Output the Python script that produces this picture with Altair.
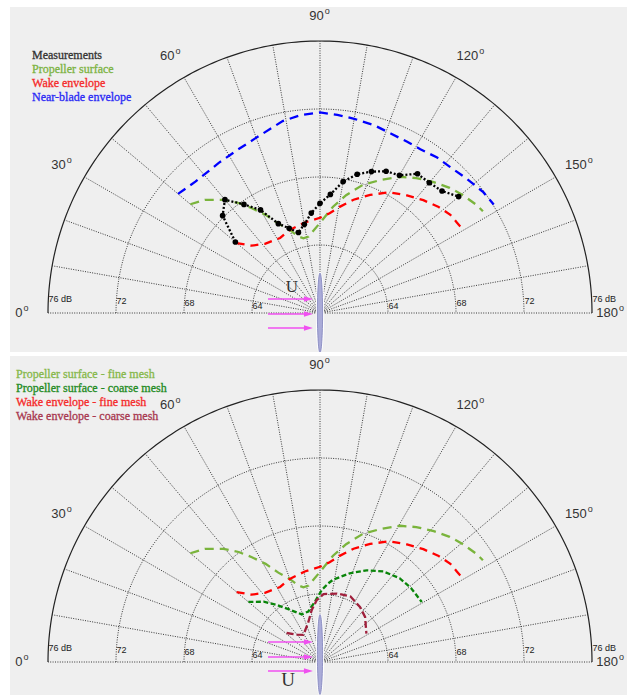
import altair as alt
import pandas as pd

# ---------------- data: angle (deg, 0° at left, 90° up, 180° at right), level (dB) ----------
meas_angle = [40, 45, 50, 55, 60, 65, 70, 75, 80, 85, 90, 95, 100, 105, 110, 115, 120, 125, 130, 135, 140]
meas_db = [66.5, 68.1, 68.7, 67.8, 67.0, 65.8, 65.3, 64.9, 65.3, 65.9, 66.45, 67.0, 67.85, 68.45,
           68.85, 69.2, 69.35, 70.0, 70.0, 70.15, 70.65]

prop_angle = [40, 44.5, 49.5, 53.5, 57, 61, 65, 70, 74, 77.5, 81.5, 90, 97, 102.5, 108.5, 114.5,
              120.5, 125.5, 131, 136, 140.5, 145.5, 148]
prop_db = [69.95, 69.5, 68.75, 68.05, 67.35, 66.6, 65.8, 65.2, 64.7, 64.5, 64.55, 65.3, 66.3, 67.1,
           67.95, 68.6, 69.3, 69.75, 70.2, 70.6, 70.9, 71.2, 71.3]

wake_angle = [40, 44.5, 51.5, 62, 70, 80.5, 90, 95.5, 100.5, 106.5, 113, 120, 126.5, 132.5, 138,
              143, 146.5, 150]
wake_db = [66.4, 65.65, 65.2, 65.0, 65.2, 65.4, 65.6, 65.9, 66.35, 66.95, 67.55, 68.2, 68.6, 69.0,
           69.35, 69.6, 69.65, 69.75]

nb_angle = [40, 46.5, 56, 63, 69.5, 79, 84.5, 90, 95, 100, 106, 111.5, 117, 121.5, 127, 131.5,
            137.5, 143.5, 148]
nb_db = [70.9, 70.65, 70.65, 70.75, 70.95, 71.5, 71.7, 71.8, 71.7, 71.6, 71.5, 71.35, 71.3, 71.3,
         71.45, 71.5, 71.7, 71.95, 72.05]

psc_angle = [40, 47, 53, 60, 69, 77, 85, 91.5, 96, 99, 108.5, 117, 125, 133.5, 141, 149.5]
psc_db = [65.5, 64.85, 64.2, 63.55, 63.0, 63.05, 63.55, 64.25, 64.65, 64.9, 65.5, 66.05, 66.5,
          66.8, 66.9, 66.95]

wec_angle = [41, 50, 58.5, 73, 81, 87, 93, 104, 115, 126, 135, 148.5]
wec_db = [62.6, 62.1, 61.87, 62.4, 63.1, 63.65, 64.0, 64.15, 64.25, 64.0, 63.75, 63.2]

ring_db = [64, 68, 72]
outer_db = 76
spoke_angles = list(range(0, 181, 10))
angle_ticks = [0, 30, 60, 90, 120, 150, 180]

top_labels = ["Measurements", "Propeller surface", "Wake envelope", "Near-blade envelope"]
bot_labels = ["Propeller surface - fine mesh", "Propeller surface - coarse mesh",
              "Wake envelope - fine mesh", "Wake envelope - coarse mesh"]

# ---------------- layout ----------------
PX = 17.0            # pixels per dB
W = 617
CXP, CYP = 310, 306  # polar centre inside each view (px)
H_TOP, H_BOT = 345, 339

POLAR = dict(px="-(datum.db-60)*cos(datum.angle*PI/180)",
             py="(datum.db-60)*sin(datum.angle*PI/180)")

ELLIPSE = "M0,-1A0.065,1,0,1,1,0,1A0.065,1,0,1,1,0,-1Z"
HEAD = "M-1,-0.6L1,0L-1,0.6Z"

C_LG = "#7ab43c"
C_RED = "#ff0000"
C_BLUE = "#0000ff"
C_DG = "#0a850a"
C_MAR = "#a0203c"
C_ARROW = "#f050f0"
C_GRID = "#222"


def panel(h, series, markers, legend, leg_x, leg_y, arrows_y, u_pos, u_size, prop_dy):
    xs = alt.Scale(domain=[-CXP / PX, (W - CXP) / PX], nice=False, zero=False)
    ys = alt.Scale(domain=[-(h - CYP) / PX, CYP / PX], nice=False, zero=False)

    def E():
        return dict(x=alt.X("px:Q", scale=xs, axis=None), y=alt.Y("py:Q", scale=ys, axis=None))

    arc = list(range(0, 181))
    disk_df = pd.DataFrame({"angle": arc, "db": outer_db})
    disk = alt.Chart(disk_df).transform_calculate(**POLAR).mark_area(color="white").encode(
        **E(), y2=alt.Y2(datum=0), order="angle:Q")
    outer = alt.Chart(disk_df).transform_calculate(**POLAR).mark_line(
        color="#222", strokeWidth=1.2).encode(**E(), order="angle:Q")

    rings_df = pd.DataFrame([(a, d) for d in ring_db for a in arc], columns=["angle", "db"])
    rings = alt.Chart(rings_df).transform_calculate(**POLAR).mark_line(
        color=C_GRID, strokeWidth=0.9, strokeDash=[1, 1.4]).encode(
        **E(), detail="db:N", order="angle:Q")

    sp_df = pd.DataFrame({"angle": spoke_angles, "db": outer_db})
    spokes = alt.Chart(sp_df).transform_calculate(**POLAR, ox="0", oy="0").mark_rule(
        color=C_GRID, strokeWidth=0.9, strokeDash=[1, 1.4]).encode(
        x=alt.X("ox:Q", scale=xs, axis=None), y=alt.Y("oy:Q", scale=ys, axis=None),
        x2="px:Q", y2="py:Q")

    dbl_rows = []
    for d in ring_db + [outer_db]:
        for s in (-1, 1):
            dbl_rows.append({"db": d, "side": s, "text": f"{d} dB" if d == outer_db else str(d)})
    dbl = alt.Chart(pd.DataFrame(dbl_rows)).transform_calculate(
        px="datum.side*(datum.db-60) + 0.03",
        py="0.29 + 0.035*(datum.db-60)").mark_text(
        align="left", baseline="middle", fontSize=9, font="Liberation Sans", color="#222").encode(
        **E(), text="text:N")

    at_df = pd.DataFrame({"angle": angle_ticks})
    at_base = alt.Chart(at_df).transform_calculate(
        text="toString(datum.angle)",
        shift="(datum.angle < 90 ? -4.5 : (datum.angle == 90 ? -3.5 : -1))/17",
        cx="min(-17.45*cos(datum.angle*PI/180), 16.95)",
        cy="17.45*sin(datum.angle*PI/180)",
        px="datum.cx + datum.shift",
        py="datum.cy",
        ox="datum.cx + datum.shift + (length(toString(datum.angle))*7.23/2 + 1)/17",
        oy="datum.cy + 5/17")
    at_num = at_base.mark_text(align="center", baseline="middle", fontSize=13,
                               font="Liberation Sans", color="#333").encode(
        **E(), text="text:N")
    at_o = at_base.mark_text(align="left", baseline="middle", fontSize=9,
                             font="Liberation Sans", color="#333", text="o").encode(
        x=alt.X("ox:Q", scale=xs, axis=None), y=alt.Y("oy:Q", scale=ys, axis=None))

    lines = []
    for ang, dbs, color, dash in series:
        df = pd.DataFrame({"angle": ang, "db": dbs})
        lines.append(alt.Chart(df).transform_calculate(**POLAR).mark_line(
            color=color, strokeDash=dash, strokeWidth=2.3).encode(**E(), order="angle:Q"))

    extra = []
    for ang, dbs in markers:
        df = pd.DataFrame({"angle": ang, "db": dbs})
        extra.append(alt.Chart(df).transform_calculate(**POLAR).mark_point(
            filled=True, size=32, color="black", opacity=1).encode(**E()))

    legs = []
    for i, (lab, col) in enumerate(legend):
        df = pd.DataFrame({"label": [lab], "row": [i]})
        legs.append(alt.Chart(df).transform_calculate(
            px=f"{leg_x}", py=f"{leg_y} - datum.row*14/17").mark_text(
            align="left", baseline="middle", font="Liberation Serif", fontSize=12,
            fontWeight="normal", color=col, stroke=col, strokeWidth=0.3).encode(
            **E(), text="label:N"))

    prop_df = pd.DataFrame({"k": [0]})
    prop_base = alt.Chart(prop_df).transform_calculate(px="0", py=f"{prop_dy}")
    prop_halo = prop_base.mark_point(shape=ELLIPSE, size=6400, filled=False, stroke="white",
                                     strokeWidth=3, opacity=1, clip=True).encode(**E())
    prop = prop_base.mark_point(shape=ELLIPSE, size=6400, filled=True, fill="#aaabd8",
                                stroke="#7f81bb", strokeWidth=0.8, opacity=1, clip=True).encode(**E())

    ar_df = pd.DataFrame({"ay": arrows_y})
    ar_base = alt.Chart(ar_df).transform_calculate(x0="-3.06", x1="-0.85", xh="-0.68", py="datum.ay")
    ar_rule = ar_base.mark_rule(color=C_ARROW, strokeWidth=1.6).encode(
        x=alt.X("x0:Q", scale=xs, axis=None), x2="x1:Q", y=alt.Y("py:Q", scale=ys, axis=None))
    ar_head = ar_base.mark_point(shape=HEAD, size=81, filled=True, color=C_ARROW, opacity=1).encode(
        x=alt.X("xh:Q", scale=xs, axis=None), y=alt.Y("py:Q", scale=ys, axis=None))

    u_df = pd.DataFrame({"t": ["U"]})
    u = alt.Chart(u_df).transform_calculate(px=f"{u_pos[0]}", py=f"{u_pos[1]}").mark_text(
        align="center", baseline="middle", font="Liberation Serif", fontSize=u_size,
        color="#333").encode(**E(), text="t:N")

    return alt.layer(disk, rings, spokes, outer, dbl, at_num, at_o, *lines, *extra, *legs,
                     prop_halo, prop, ar_rule, ar_head, u).properties(width=W, height=h)


top = panel(
    H_TOP,
    series=[(prop_angle, prop_db, C_LG, [9, 6]),
            (wake_angle, wake_db, C_RED, [8, 6]),
            (nb_angle, nb_db, C_BLUE, [9, 6]),
            (meas_angle, meas_db, "black", [2, 2])],
    markers=[(meas_angle, meas_db)],
    legend=list(zip(top_labels, ["#333333", "#7cb342", "#f52a2a", "#2a2af5"])),
    leg_x=-16.94, leg_y=15.18,
    arrows_y=[0.82, -0.06, -0.88],
    u_pos=(-1.65, 1.53), u_size=17, prop_dy=0.0)

bottom = panel(
    H_BOT,
    series=[(prop_angle, prop_db, C_LG, [9, 6]),
            (wake_angle, wake_db, C_RED, [8, 6]),
            (psc_angle, psc_db, C_DG, [5, 2.5]),
            (wec_angle, wec_db, C_MAR, [7, 3])],
    markers=[],
    legend=list(zip(bot_labels, ["#86b84a", "#228b22", "#f52a2a", "#a8384f"])),
    leg_x=-17.88, leg_y=16.94,
    arrows_y=[1.18, 0.29, -0.53],
    u_pos=(-1.88, -1.06), u_size=19, prop_dy=0.44)

chart = alt.vconcat(top, bottom, spacing=4).resolve_scale(
    x="independent", y="independent").configure_view(
    fill="#efefef", stroke=None).properties(
    padding={"left": 10, "top": 7, "right": 0, "bottom": 1}, background="white")

chart.save("out.html", embed_options={"renderer": "svg", "actions": False})
